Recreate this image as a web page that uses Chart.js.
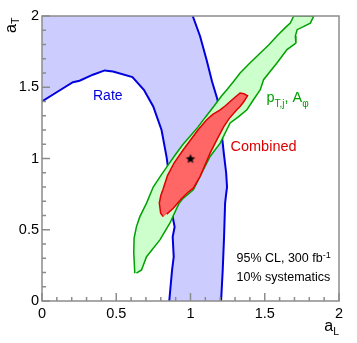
<!DOCTYPE html>
<html>
<head>
<meta charset="utf-8">
<script src="https://cdn.jsdelivr.net/npm/chart.js@4/dist/chart.umd.min.js"></script>
<style>
  html, body { margin: 0; padding: 0; background: #fff; }
  canvas { display: block; }
</style>
</head>
<body>
<canvas id="contour" width="357" height="343"></canvas>
<script>
// ---------- data (a_L, a_T) ----------
// Rate contour: left branch (from left edge down to bottom) and right branch (top to bottom)
const rateLeftX = [0, 0.107, 0.208, 0.253, 0.343, 0.422, 0.478, 0.609, 0.686, 0.749, 0.805, 0.839, 0.86, 0.875, 0.88, 0.893, 0.88, 0.887, 0.876, 0.87, 0.857];
const rateLeftY = [1.40, 1.47, 1.535, 1.546, 1.588, 1.618, 1.611, 1.571, 1.482, 1.365, 1.20, 1.01, 0.85, 0.70, 0.59, 0.52, 0.45, 0.31, 0.218, 0.15, 0];
const rateRightX = [1.015, 1.064, 1.109, 1.145, 1.18, 1.2, 1.212, 1.225, 1.24, 1.246, 1.24, 1.233, 1.226, 1.217, 1.206];
const rateRightY = [2.0, 1.86, 1.69, 1.54, 1.42, 1.3, 1.155, 1.03, 0.9, 0.8, 0.75, 0.687, 0.45, 0.218, 0];

// pT,j + A_phi contour: left edge bottom -> top, right edge top -> bottom
const ptjLeftX = [0.625, 0.618, 0.62, 0.636, 0.659, 0.704, 0.749, 0.80, 0.85, 0.90, 0.95, 1.0, 1.05, 1.10, 1.16, 1.21, 1.245, 1.29, 1.334, 1.40, 1.47, 1.53, 1.582, 1.64, 1.672, 1.695];
const ptjLeftY = [0.195, 0.335, 0.44, 0.522, 0.592, 0.687, 0.80, 0.88, 0.955, 1.03, 1.10, 1.16, 1.22, 1.29, 1.37, 1.44, 1.483, 1.54, 1.60, 1.67, 1.74, 1.80, 1.86, 1.92, 1.95, 2.0];
const ptjRightX = [1.83, 1.807, 1.76, 1.718, 1.706, 1.71, 1.65, 1.582, 1.492, 1.47, 1.424, 1.38, 1.32, 1.267, 1.2, 1.132, 1.086, 1.019, 0.95, 0.92, 0.861, 0.794, 0.704, 0.67, 0.636];
const ptjRightY = [2.0, 1.95, 1.925, 1.904, 1.86, 1.81, 1.764, 1.67, 1.553, 1.483, 1.412, 1.342, 1.29, 1.249, 1.108, 1.014, 0.92, 0.78, 0.72, 0.68, 0.546, 0.429, 0.311, 0.218, 0.195];

// Combined contour
const combLeftX = [0.816, 0.799, 0.79, 0.80, 0.814, 0.845, 0.89, 0.95, 1.0, 1.05, 1.109, 1.15, 1.2, 1.235, 1.267, 1.30, 1.334, 1.36, 1.384];
const combLeftY = [0.592, 0.616, 0.687, 0.74, 0.78, 0.88, 0.97, 1.06, 1.13, 1.2, 1.272, 1.31, 1.342, 1.37, 1.40, 1.43, 1.46, 1.455, 1.44];
const combRightX = [1.36, 1.334, 1.312, 1.26, 1.225, 1.177, 1.132, 1.10, 1.064, 1.019, 0.98, 0.94, 0.884, 0.84];
const combRightY = [1.40, 1.365, 1.342, 1.28, 1.225, 1.131, 1.038, 0.96, 0.873, 0.792, 0.76, 0.72, 0.651, 0.61];

// SM point
const bestX = [1];
const bestY = [1];

const axisMin = 0, axisMax = 2;
const majorTicks = [0, 0.5, 1, 1.5, 2];
const minorTicks = [0.1, 0.2, 0.3, 0.4, 0.6, 0.7, 0.8, 0.9, 1.1, 1.2, 1.3, 1.4, 1.6, 1.7, 1.8, 1.9];

// ---------- helpers ----------
const pts = (xs, ys) => xs.map((x, i) => ({ x, y: ys[i] }));
const FONT = '"Liberation Sans", Arial, Helvetica, sans-serif';

const rateFill = [{ x: axisMin, y: axisMax }]
  .concat(pts(rateLeftX, rateLeftY))
  .concat(pts(rateRightX, rateRightY).reverse());
const ptjShape = pts(ptjLeftX, ptjLeftY).concat(pts(ptjRightX, ptjRightY));
const combShape = pts(combLeftX, combLeftY).concat(pts(combRightX, combRightY));

function starImage(r) {
  const s = Math.ceil(r * 2 + 2);
  const c = document.createElement('canvas');
  c.width = c.height = s;
  const g = c.getContext('2d');
  g.translate(s / 2, s / 2 + 0.5);
  g.beginPath();
  for (let i = 0; i < 10; i++) {
    const rad = i % 2 ? r * 0.45 : r;
    const a = -Math.PI / 2 + i * Math.PI / 5;
    g.lineTo(rad * Math.cos(a), rad * Math.sin(a));
  }
  g.closePath();
  g.fillStyle = '#000';
  g.fill();
  return c;
}

function drawRich(ctx, x, y, parts) {
  parts.forEach(([t, size, dy]) => {
    ctx.font = size + 'px ' + FONT;
    ctx.fillText(t, x, y + dy);
    x += ctx.measureText(t).width;
  });
}

// frame, inner ticks and labels on top of the contours
const framePlugin = {
  id: 'frame',
  afterDatasetsDraw(chart) {
    const { ctx, chartArea: a, scales: { x, y } } = chart;
    ctx.save();
    ctx.strokeStyle = '#8c8c8c';
    ctx.lineWidth = 1.5;
    ctx.strokeRect(a.left, a.top, a.right - a.left, a.bottom - a.top);
    ctx.beginPath();
    const tick = (v, len) => {
      const px = x.getPixelForValue(v);
      ctx.moveTo(px, a.bottom);
      ctx.lineTo(px, a.bottom - len);
      const py = y.getPixelForValue(v);
      ctx.moveTo(a.left, py);
      ctx.lineTo(a.left + len, py);
    };
    majorTicks.forEach(v => tick(v, 8));
    minorTicks.forEach(v => tick(v, 4));
    ctx.stroke();

    ctx.textBaseline = 'alphabetic';
    ctx.textAlign = 'left';

    ctx.fillStyle = '#0000dd';
    drawRich(ctx, 93, 99.5, [['Rate', 14, 0]]);

    ctx.fillStyle = '#dd0000';
    drawRich(ctx, 230.5, 151, [['Combined', 14.5, 0]]);

    ctx.fillStyle = '#00a000';
    drawRich(ctx, 266.5, 102, [['p', 14.5, 0], ['T,j', 10, 5], [', A', 14.5, 0], ['\u03c6', 10, 5]]);

    ctx.fillStyle = '#000';
    drawRich(ctx, 236.5, 261.5, [['95% CL, 300 fb', 12.5, 0], ['-1', 9, -4]]);
    drawRich(ctx, 236.5, 281, [['10% systematics', 12.5, 0]]);

    drawRich(ctx, 324.3, 331, [['a', 16, 0], ['L', 10.5, 4]]);
    ctx.save();
    ctx.translate(16, 33);
    ctx.rotate(-Math.PI / 2);
    drawRich(ctx, 0, 0, [['a', 16, 0], ['T', 10.5, 3]]);
    ctx.restore();

    ctx.restore();
  }
};

const tickFont = { family: FONT, size: 14.5 };
const tickLabel = v => (majorTicks.includes(v) ? String(v) : '');

new Chart(document.getElementById('contour'), {
  type: 'scatter',
  data: {
    datasets: [
      { label: 'SM', data: pts(bestX, bestY), pointStyle: starImage(5), pointRadius: 5, order: 0 },
      { label: 'Combined', data: combShape, showLine: true, fill: 'shape', backgroundColor: '#ff6666',
        borderColor: '#dd0000', borderWidth: 1.5, pointRadius: 0, order: 1 },
      { label: 'ptj', data: ptjShape, showLine: true, fill: 'shape', backgroundColor: '#ccffcc',
        borderColor: '#00a000', borderWidth: 1.5, pointRadius: 0, order: 2 },
      { label: 'Rate left', data: pts(rateLeftX, rateLeftY), showLine: true, fill: false,
        borderColor: '#0000dd', borderWidth: 2, pointRadius: 0, order: 3 },
      { label: 'Rate right', data: pts(rateRightX, rateRightY), showLine: true, fill: false,
        borderColor: '#0000dd', borderWidth: 2, pointRadius: 0, order: 3 },
      { label: 'Rate area', data: rateFill, showLine: true, fill: 'shape', backgroundColor: '#ccccff',
        borderWidth: 0, borderColor: 'rgba(0,0,0,0)', pointRadius: 0, order: 4 }
    ]
  },
  options: {
    responsive: false,
    animation: false,
    layout: { padding: { top: 16, right: 18, left: 0, bottom: 0 } },
    plugins: { legend: { display: false }, tooltip: { enabled: false } },
    scales: {
      x: {
        type: 'linear', min: axisMin, max: axisMax,
        grid: { display: false, drawTicks: false }, border: { display: false },
        ticks: { stepSize: 0.5, autoSkip: false, padding: 4, color: '#000', font: tickFont, maxRotation: 0, callback: tickLabel },
        afterFit: s => { s.height = 42; }
      },
      y: {
        type: 'linear', min: axisMin, max: axisMax,
        grid: { display: false, drawTicks: false }, border: { display: false },
        ticks: { stepSize: 0.5, autoSkip: false, padding: 3, color: '#000', font: tickFont, callback: tickLabel },
        afterFit: s => { s.width = 42; }
      }
    }
  },
  plugins: [framePlugin]
});
</script>
</body>
</html>
